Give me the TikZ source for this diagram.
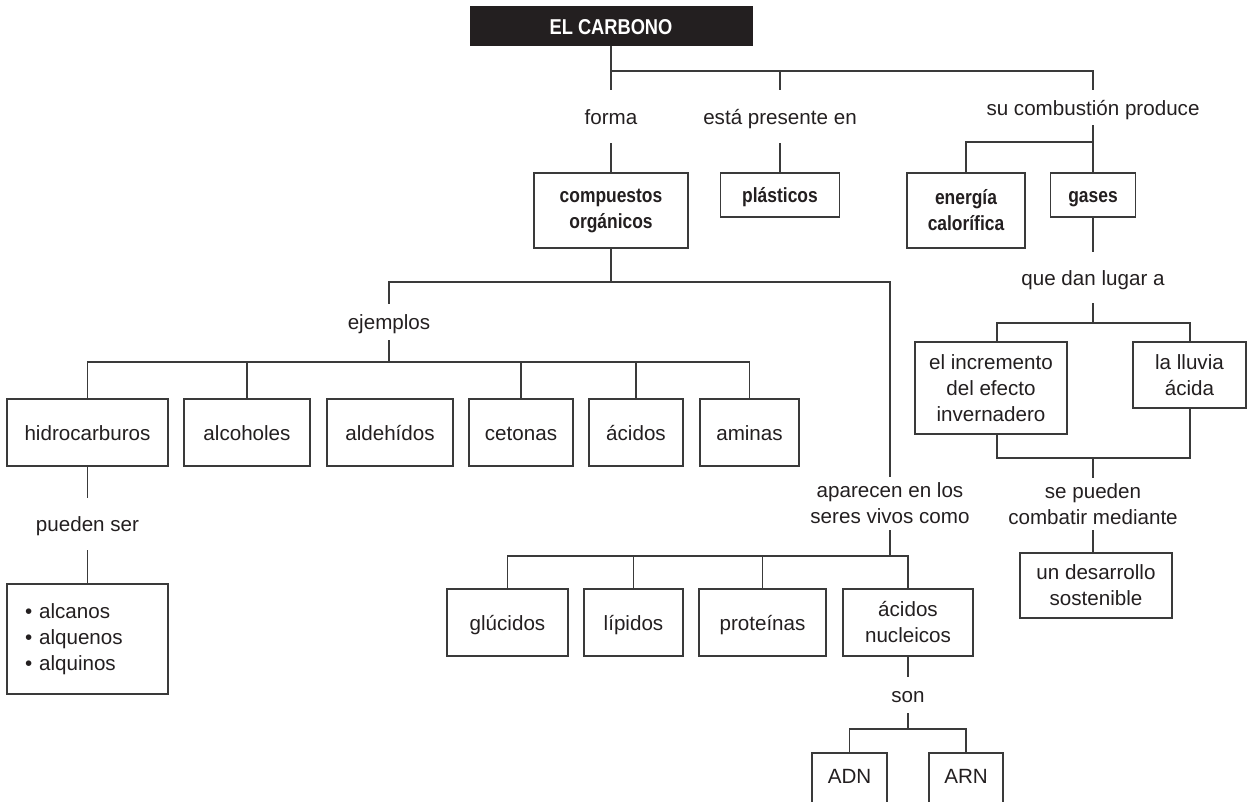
\documentclass[tikz,border=0pt]{standalone}
\usepackage{fontspec}
\setmainfont{Liberation Sans}
\newfontfamily\bcond[FakeStretch=0.85]{Liberation Sans Bold}
\definecolor{ink}{HTML}{231F20}
\definecolor{linec}{HTML}{3A3A3A}
\newcommand\rgf{\fontsize{20.6}{26}\selectfont}
\newcommand\bcf{\bcond\fontsize{20.5}{26}\selectfont}
\begin{document}
\begin{tikzpicture}[x=1pt,y=-1pt,
  ln/.style={draw=linec,line width=1.2pt},
  box/.style={draw=linec,line width=1.2pt,fill=white,inner sep=0pt,align=center,font=\rgf,text=ink},
  bbox/.style={box,font=\bcf},
  sl/.style={text height=15pt,text depth=0pt},
  lab/.style={inner sep=0pt,align=center,font=\rgf,text=ink},
]
\useasboundingbox (0,0) rectangle (1250,801);
\clip (0,0) rectangle (1250,801);

% title
\node[fill=ink,inner sep=0pt,minimum width=283pt,minimum height=40pt,text=white,
      font=\bcond\fontsize{21.5}{26}\selectfont,text height=16pt,text depth=0pt] (title) at (611,26) {EL CARBONO};

% first level labels
\node[lab,sl,minimum height=53pt] (forma) at (611,116.5) {forma};
\node[lab,sl,minimum height=53pt] (presente) at (780,116.5) {está presente en};
\node[lab,sl,minimum height=35pt] (combust) at (1093,107.5) {su combustión produce};

\coordinate (b1) at (611,71);
\draw[ln] (title.south) -- (b1) -- (b1 -| combust) -- (combust.north);
\draw[ln] (b1) -- (forma.north);
\draw[ln] (presente.north |- b1) -- (presente.north);

% second level boxes
\node[bbox,minimum width=154pt,minimum height=75pt] (comp) at (611,210.5) {compuestos\\orgánicos};
\node[bbox,sl,minimum width=119pt,minimum height=44pt] (plas) at (780,195) {plásticos};
\node[bbox,minimum width=118pt,minimum height=75pt] (ener) at (966,210.5) {energía\\calorífica};
\node[bbox,sl,minimum width=85pt,minimum height=44pt] (gases) at (1093,195) {gases};
\draw[ln] (forma.south) -- (comp.north);
\draw[ln] (presente.south) -- (plas.north);
\coordinate (b2) at (1093,142);
\draw[ln] (combust.south) -- (gases.north);
\draw[ln] (b2) -| (ener.north);

% right branch
\node[lab,sl,minimum height=51pt] (qdl) at (1093,277.5) {que dan lugar a};
\draw[ln] (gases.south) -- (qdl.north);
\node[box,minimum width=152pt,minimum height=92pt] (incr) at (991,388) {el incremento\\del efecto\\invernadero};
\node[box,minimum width=113pt,minimum height=66pt] (lluv) at (1189.5,375) {la lluvia\\ácida};
\coordinate (b3l) at (997,323);
\coordinate (b3r) at (1190,323);
\draw[ln] (qdl.south) -- (qdl.south |- b3l);
\draw[ln] (incr.north -| b3l) -- (b3l) -- (b3r) -- (lluv.north -| b3r);
\coordinate (b4l) at (997,458);
\coordinate (b4r) at (1190,458);
\draw[ln] (incr.south -| b4l) -- (b4l) -- (b4r) -- (lluv.south -| b4r);
\node[lab,minimum height=52pt] (sep) at (1093,504) {se pueden\\combatir mediante};
\draw[ln] (sep.north |- b4l) -- (sep.north);
\node[box,minimum width=152pt,minimum height=65pt] (desa) at (1096,585.5) {un desarrollo\\sostenible};
\draw[ln] (sep.south) -- (sep.south |- desa.north);

% compuestos branch
\coordinate (b5) at (611,282);
\node[lab,sl,minimum height=36pt] (ejem) at (389,322) {ejemplos};
\node[lab,minimum height=53pt] (apar) at (890,503.5) {aparecen en los\\seres vivos como};
\draw[ln] (comp.south) -- (b5);
\draw[ln] (ejem.north) |- (b5) -| (apar.north);

% examples row
\node[box,sl,minimum width=161pt,minimum height=67pt] (hidro) at (87.5,432.5) {hidrocarburos};
\node[box,sl,minimum width=126pt,minimum height=67pt] (alcoh) at (247,432.5) {alcoholes};
\node[box,sl,minimum width=126pt,minimum height=67pt] (aldeh) at (390,432.5) {aldehídos};
\node[box,sl,minimum width=104pt,minimum height=67pt] (ceton) at (521,432.5) {cetonas};
\node[box,sl,minimum width=94pt,minimum height=67pt] (acid) at (636,432.5) {ácidos};
\node[box,sl,minimum width=99pt,minimum height=67pt] (amin) at (749.5,432.5) {aminas};
\coordinate (b6) at (389,362);
\draw[ln] (ejem.south) -- (b6);
\draw[ln] (hidro.north) |- (b6) -| (amin.north);
\draw[ln] (alcoh.north) -- (alcoh.north |- b6);
\draw[ln] (ceton.north) -- (ceton.north |- b6);
\draw[ln] (acid.north) -- (acid.north |- b6);

% hidrocarburos
\node[lab,sl,minimum height=52pt] (pser) at (87.5,524) {pueden ser};
\draw[ln] (hidro.south) -- (pser.north);
\node[box,align=left,minimum width=161pt,minimum height=110pt,text width=125pt] (lista) at (87.5,639)
  {\textbullet\ alcanos\\\textbullet\ alquenos\\\textbullet\ alquinos};
\draw[ln] (pser.south) -- (lista.north);

% seres vivos row
\node[box,sl,minimum width=121pt,minimum height=67pt] (gluc) at (507.5,622.5) {glúcidos};
\node[box,sl,minimum width=99pt,minimum height=67pt] (lip) at (633.5,622.5) {lípidos};
\node[box,sl,minimum width=127pt,minimum height=67pt] (prot) at (762.5,622.5) {proteínas};
\node[box,minimum width=130pt,minimum height=67pt] (acn) at (908,622.5) {ácidos\\nucleicos};
\coordinate (b7) at (890,556);
\draw[ln] (apar.south) -- (b7);
\draw[ln] (gluc.north) |- (b7) -| (acn.north);
\draw[ln] (lip.north) -- (lip.north |- b7);
\draw[ln] (prot.north) -- (prot.north |- b7);

% nucleic acids
\node[lab,sl,minimum height=36pt] (son) at (908,695) {son};
\draw[ln] (acn.south) -- (son.north);
\coordinate (b8) at (908,729);
\draw[ln] (son.south) -- (b8);
\node[box,minimum width=75pt,minimum height=60pt,text height=14pt,text depth=14pt] (adn) at (849.5,783) {ADN};
\node[box,minimum width=74pt,minimum height=60pt,text height=14pt,text depth=14pt] (arn) at (966,783) {ARN};
\draw[ln] (adn.north) |- (b8) -| (arn.north);
\end{tikzpicture}
\end{document}
